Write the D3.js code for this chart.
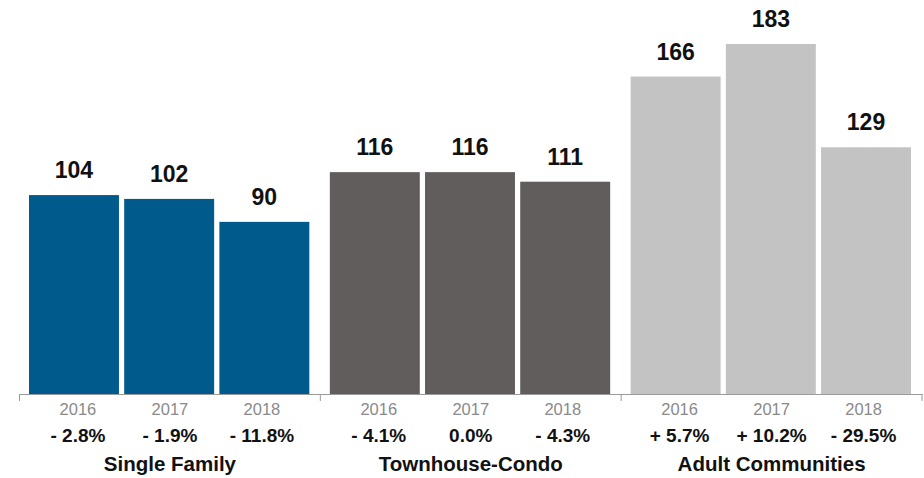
<!DOCTYPE html>
<html>
<head>
<meta charset="utf-8">
<script src="https://cdn.jsdelivr.net/npm/d3@7"></script>
<style>
  html, body { margin: 0; padding: 0; background: #ffffff; }
  svg { display: block; font-family: "Liberation Sans", Arial, Helvetica, sans-serif; }
</style>
</head>
<body>
<svg id="chart" width="924" height="478"></svg>
<script>
// Units by property type, 2016–2018
const categories = ["Single Family", "Townhouse-Condo", "Adult Communities"];
const years = ["2016", "2017", "2018"];
const singleFamily = [104, 102, 90];
const townhouseCondo = [116, 116, 111];
const adultCommunities = [166, 183, 129];
const singleFamilyChange = ["- 2.8%", "- 1.9%", "- 11.8%"];
const townhouseCondoChange = ["- 4.1%", "0.0%", "- 4.3%"];
const adultCommunitiesChange = ["+ 5.7%", "+ 10.2%", "- 29.5%"];
const colors = ["#005a8c", "#625d5d", "#c3c3c3"];

const values = [singleFamily, townhouseCondo, adultCommunities];
const changes = [singleFamilyChange, townhouseCondoChange, adultCommunitiesChange];

const svg = d3.select("#chart");
const baseY = 394;

// Outer band: one slot per category
const x0 = d3.scaleBand().domain(categories).range([19.5, 922]).paddingInner(0).paddingOuter(0);
// Inner band: one bar per year inside each slot
const x1 = d3.scaleBand().domain(years).range([9.5, x0.bandwidth() - 11]).paddingInner(0.055).paddingOuter(0);
const y = d3.scaleLinear().domain([0, 206]).range([baseY, 0]);

// Axis line with tick marks at category boundaries
const gAxis = svg.append("g").attr("transform", `translate(0,${baseY})`);
gAxis.call(d3.axisBottom(x0).tickValues([]).tickSizeOuter(0));
gAxis.select(".domain").attr("stroke", "#9a9a9a").attr("stroke-width", 1);
const bounds = categories.map(c => x0(c)).concat([x0(categories[2]) + x0.bandwidth()]);
gAxis.selectAll("line.bound").data(bounds).join("line")
  .attr("class", "bound")
  .attr("x1", d => d).attr("x2", d => d)
  .attr("y1", 0).attr("y2", 7)
  .attr("stroke", "#9a9a9a").attr("stroke-width", 1);

const groups = svg.selectAll("g.cat").data(categories).join("g")
  .attr("class", "cat")
  .attr("transform", d => `translate(${x0(d)},0)`);

// Bars
groups.selectAll("rect").data((c, i) => values[i].map((v, j) => ({ v, year: years[j], ci: i })))
  .join("rect")
  .attr("x", d => x1(d.year))
  .attr("width", x1.bandwidth())
  .attr("y", d => y(d.v))
  .attr("height", d => baseY - y(d.v))
  .attr("fill", d => colors[d.ci]);

// Value labels above bars
groups.selectAll("text.val").data((c, i) => values[i].map((v, j) => ({ v, year: years[j] })))
  .join("text")
  .attr("class", "val")
  .attr("x", d => x1(d.year) + x1.bandwidth() / 2)
  .attr("y", d => y(d.v) - 17)
  .attr("text-anchor", "middle")
  .attr("font-size", 23)
  .attr("font-weight", "bold")
  .attr("fill", "#111")
  .text(d => d.v);

// Year and change labels under the axis
const labelStep = 92;
const mid = x0.bandwidth() / 2;
groups.selectAll("text.year").data(years)
  .join("text")
  .attr("class", "year")
  .attr("x", (d, j) => mid + (j - 1) * labelStep)
  .attr("y", 415)
  .attr("text-anchor", "middle")
  .attr("font-size", 16.5)
  .attr("fill", "#8a8a8a")
  .text(d => d);

groups.selectAll("text.chg").data((c, i) => changes[i])
  .join("text")
  .attr("class", "chg")
  .attr("x", (d, j) => mid + (j - 1) * labelStep)
  .attr("y", 442)
  .attr("text-anchor", "middle")
  .attr("font-size", 19)
  .attr("font-weight", "bold")
  .attr("fill", "#111")
  .text(d => d);

// Category names
groups.append("text")
  .attr("x", mid)
  .attr("y", 471)
  .attr("text-anchor", "middle")
  .attr("font-size", 20.5)
  .attr("font-weight", "bold")
  .attr("fill", "#111")
  .text(d => d);
</script>
</body>
</html>
